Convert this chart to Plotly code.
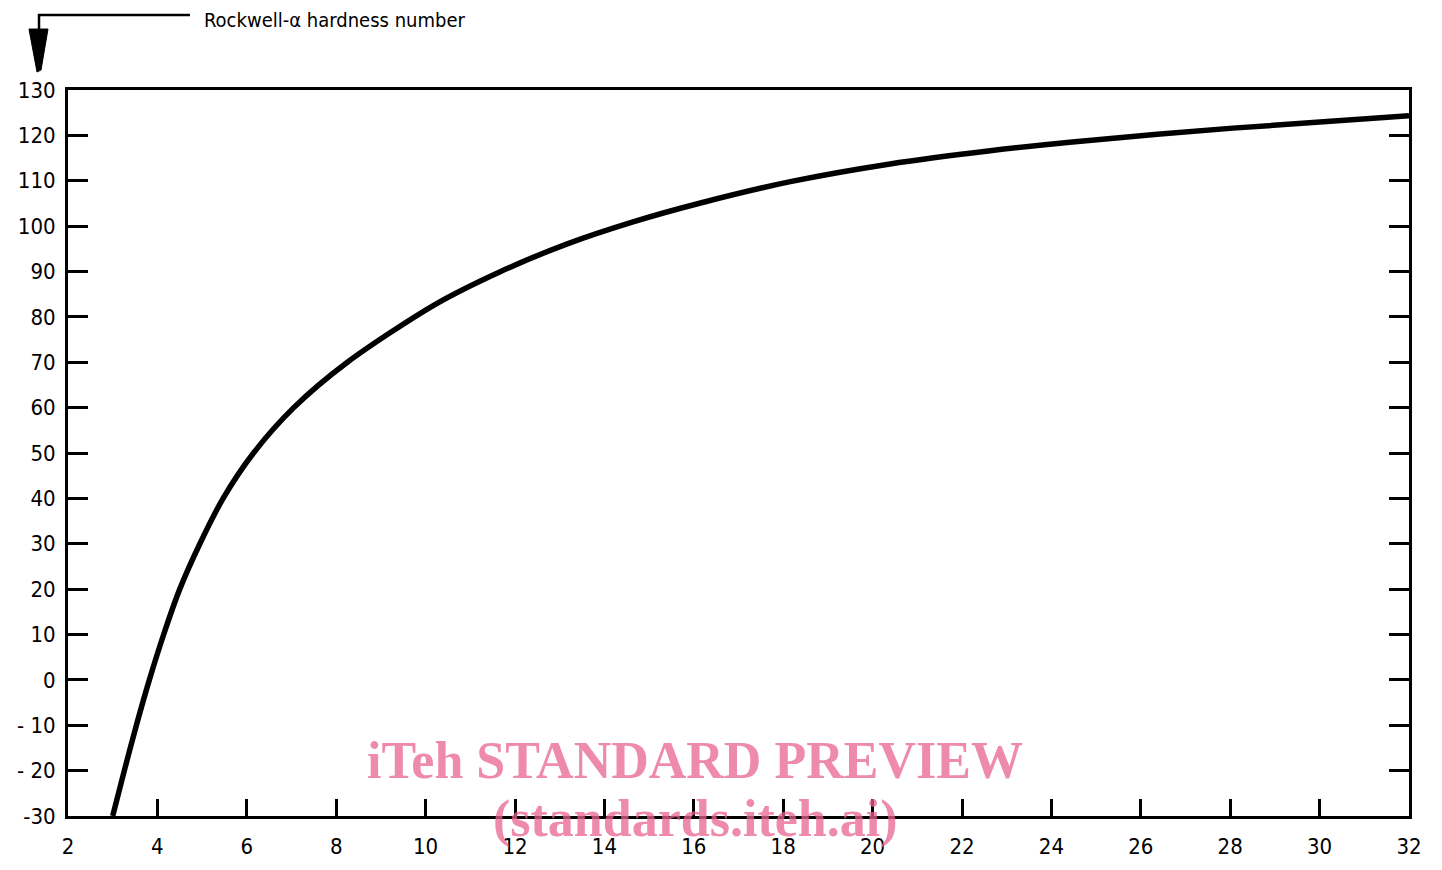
import plotly.graph_objects as go

# ---- data ----
x_values = [3.0, 3.26, 3.53, 3.82, 4.14, 4.5, 4.95, 5.47, 6.15, 7.05, 8.25,
            10.19, 11.68, 13.17, 14.66, 16.15, 18.16, 20.39, 22.63, 24.41,
            28.06, 32.0]
hardness = [-30, -20, -10, 0, 10, 20, 30, 40, 50, 60, 70,
            82.6, 90.0, 96.1, 101.0, 105.1, 109.8, 113.7, 116.6, 118.5,
            121.6, 124.3]

x_ticks = list(range(2, 33, 2))
y_ticks = list(range(-30, 131, 10))
y_ticktext = ["-30", "- 20", "- 10", "0", "10", "20", "30", "40", "50", "60",
              "70", "80", "90", "100", "110", "120", "130"]
axis_title = "Rockwell-α hardness number"
watermark_1 = "iTeh STANDARD PREVIEW"
watermark_2 = "(standards.iteh.ai)"

# ---- layout geometry (pixels) ----
OFF = 8                      # page body margin
W, H = 1426, 854
L, R, T, B = 60, 24.5, 82, 45.5
PW, PH = W - L - R, H - T - B


def px(xp):  # window pixel -> paper
    return (xp - OFF - L) / PW


def py(yp):
    return (H - B - (yp - OFF)) / PH


FONT = "DejaVu Sans Condensed, DejaVu Sans, sans-serif"
WM_FONT = "Liberation Serif, Times New Roman, serif"
WM_COLOR = "rgba(232,100,145,0.75)"

fig = go.Figure()
fig.add_trace(go.Scatter(
    x=x_values, y=hardness, mode="lines",
    line=dict(color="black", width=5.5, shape="spline", smoothing=0.8),
    showlegend=False, hoverinfo="x+y",
))

fig.update_layout(
    width=W, height=H,
    margin=dict(l=L, r=R, t=T, b=B, pad=0, autoexpand=False),
    paper_bgcolor="white", plot_bgcolor="white",
    font=dict(family=FONT, color="black", size=22),
    xaxis=dict(
        range=[2, 32], tickvals=x_ticks, ticktext=[str(v) for v in x_ticks],
        ticks="inside", ticklen=17, tickwidth=3, tickcolor="black",
        showline=True, linewidth=3, linecolor="black", mirror=True,
        showgrid=False, zeroline=False, ticklabelstandoff=9,
        automargin=False,
        tickfont=dict(size=22, family=FONT),
    ),
    yaxis=dict(
        range=[-30, 130], tickvals=y_ticks, ticktext=y_ticktext,
        ticks="inside", ticklen=20, tickwidth=3, tickcolor="black",
        showline=True, linewidth=3, linecolor="black", mirror="ticks",
        showgrid=False, zeroline=False, ticklabelstandoff=5,
        automargin=False,
        tickfont=dict(size=22, family=FONT),
    ),
)

# arrow indicator at top-left
fig.add_shape(type="path",
              path=f"M {px(39)},{py(30)} L {px(39)},{py(15)} L {px(190)},{py(15)}",
              xref="paper", yref="paper",
              line=dict(color="black", width=2.5))
fig.add_shape(type="path",
              path=(f"M {px(29)},{py(29)} L {px(48)},{py(29)} "
                    f"L {px(41)},{py(70)} L {px(37)},{py(72)} Z"),
              xref="paper", yref="paper",
              fillcolor="black", line=dict(color="black", width=1))

fig.add_annotation(text=axis_title, xref="paper", yref="paper",
                   x=px(202), y=py(20), xanchor="left", yanchor="middle",
                   showarrow=False, font=dict(size=20, family=FONT))

# watermark text
fig.add_annotation(text=f"<b>{watermark_1}</b>", xref="paper", yref="paper",
                   x=px(695), y=py(761), xanchor="center", yanchor="middle",
                   showarrow=False,
                   font=dict(size=52, family=WM_FONT, color=WM_COLOR))
fig.add_annotation(text=f"<b>{watermark_2}</b>", xref="paper", yref="paper",
                   x=px(695), y=py(820), xanchor="center", yanchor="middle",
                   showarrow=False,
                   font=dict(size=52, family=WM_FONT, color=WM_COLOR))

fig.write_html("out.html")
